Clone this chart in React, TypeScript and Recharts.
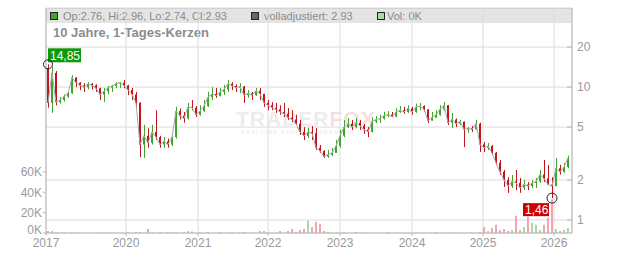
import React from 'react';
import { ComposedChart, Bar, Line, XAxis, YAxis, CartesianGrid, ReferenceDot, Cell } from 'recharts';

// one candle per ~4px of the original
const OPEN = [
  13.9, 7.6, 12.8, 7.7, 8.0, 8.5, 9.0, 11.8, 10.8, 10.3,
  10.0, 10.6, 10.3, 9.8, 8.8, 9.3, 9.9, 10.2, 10.6, 10.8,
  10.3, 9.5, 8.8, 7.6, 3.7, 4.3, 3.8, 4.6, 4.2, 3.7,
  3.9, 3.7, 4.2, 6.6, 6.1, 5.8, 7.1, 7.0, 6.2, 6.6,
  7.2, 8.4, 8.9, 8.6, 9.2, 9.6, 10.6, 10.2, 9.9, 10.1,
  8.7, 9.0, 8.7, 9.4, 8.9, 7.6, 7.3, 7.0, 6.8, 6.5,
  6.3, 5.9, 5.7, 5.3, 4.6, 4.3, 4.6, 4.5, 3.5, 3.3,
  3.0, 3.1, 3.2, 3.6, 4.3, 5.0, 5.3, 5.0, 5.4, 5.1,
  4.8, 4.6, 5.5, 5.7, 5.8, 6.1, 6.2, 6.0, 6.5, 6.7,
  6.5, 6.9, 6.5, 7.1, 7.2, 6.8, 5.6, 5.9, 6.2, 6.8,
  7.3, 5.4, 5.7, 5.3, 5.5, 4.8, 4.9, 4.8, 5.3, 3.7,
  3.5, 3.6, 3.2, 2.7, 2.3, 2.0, 1.8, 1.95, 1.9, 1.75,
  1.85, 1.8, 1.9, 1.95, 2.2, 2.05, 1.85, 1.8, 2.45, 2.3,
  2.5,
];
const HIGH = [
  14.85, 14.2, 13.2, 8.4, 8.8, 9.2, 12.3, 11.9, 10.9, 10.7,
  10.9, 10.7, 10.5, 9.9, 9.85, 10.2, 10.4, 10.9, 10.9, 11.3,
  10.4, 9.85, 9.2, 7.7, 5.2, 4.9, 5.2, 6.7, 4.3, 4.2,
  4.1, 4.4, 7.1, 6.9, 6.5, 7.6, 8.0, 7.2, 7.3, 8.0,
  9.2, 10.0, 9.85, 9.85, 10.4, 11.3, 10.9, 10.5, 10.7, 10.2,
  9.5, 9.2, 9.85, 9.85, 8.9, 8.0, 7.7, 7.6, 7.3, 7.6,
  6.95, 6.7, 6.2, 5.66, 5.0, 4.92, 5.1, 4.92, 3.67, 3.36,
  3.36, 3.48, 4.0, 4.76, 5.66, 5.85, 5.66, 5.85, 5.66, 5.28,
  5.0, 5.95, 6.06, 6.2, 6.5, 6.6, 6.5, 6.95, 7.2, 7.1,
  7.3, 7.1, 7.5, 7.6, 7.3, 6.8, 6.5, 6.7, 7.3, 7.7,
  7.3, 6.4, 5.8, 5.66, 5.5, 5.0, 5.1, 5.66, 5.4, 3.86,
  3.8, 3.67, 3.25, 2.83, 2.38, 2.1, 2.18, 2.38, 2.07, 2.0,
  1.93, 2.0, 2.07, 2.38, 2.83, 2.59, 2.1, 2.93, 2.6, 2.68,
  3.05,
];
const LOW = [
  7.0, 6.4, 7.3, 7.5, 7.8, 8.3, 8.9, 10.0, 9.5, 9.2,
  9.6, 9.6, 9.2, 8.0, 7.7, 8.8, 9.2, 9.8, 9.85, 9.8,
  8.7, 8.0, 6.95, 2.97, 2.93, 3.5, 3.7, 4.0, 3.5, 3.5,
  3.5, 3.6, 4.1, 5.7, 5.4, 5.7, 6.7, 5.95, 6.1, 6.5,
  7.1, 8.0, 8.3, 8.5, 8.7, 9.2, 9.5, 9.2, 9.0, 7.6,
  8.3, 8.0, 8.6, 8.0, 7.1, 6.7, 6.7, 6.4, 6.2, 5.95,
  5.66, 5.46, 5.19, 4.36, 4.0, 4.14, 4.0, 3.36, 3.2, 2.93,
  2.93, 3.03, 3.2, 3.5, 4.2, 4.92, 4.76, 4.9, 4.76, 4.45,
  4.2, 4.55, 5.37, 5.37, 5.7, 5.95, 5.95, 5.95, 6.4, 6.3,
  6.4, 6.2, 6.4, 6.7, 6.5, 5.37, 5.6, 5.9, 6.1, 6.6,
  5.19, 4.92, 5.0, 5.19, 3.54, 4.52, 4.6, 4.76, 3.25, 3.25,
  3.36, 3.08, 2.59, 2.18, 1.77, 1.6, 1.74, 1.68, 1.6, 1.68,
  1.68, 1.74, 1.74, 1.9, 1.93, 1.83, 1.46, 1.8, 2.2, 2.26,
  2.45,
];
const CLOSE = [
  7.6, 12.8, 7.7, 8.0, 8.5, 9.0, 11.8, 10.8, 10.3, 10.0,
  10.6, 10.3, 9.8, 8.8, 9.3, 9.9, 10.2, 10.6, 10.8, 10.3,
  9.5, 8.8, 7.6, 3.7, 4.3, 3.8, 4.6, 4.2, 3.7, 3.9,
  3.7, 4.2, 6.6, 6.1, 5.8, 7.1, 7.0, 6.2, 6.6, 7.2,
  8.4, 8.9, 8.6, 9.2, 9.6, 10.6, 10.2, 9.9, 10.1, 8.7,
  9.0, 8.7, 9.4, 8.9, 7.6, 7.3, 7.0, 6.8, 6.5, 6.3,
  5.9, 5.7, 5.3, 4.6, 4.3, 4.6, 4.5, 3.5, 3.3, 3.0,
  3.1, 3.2, 3.6, 4.3, 5.0, 5.3, 5.0, 5.4, 5.1, 4.8,
  4.6, 5.5, 5.7, 5.8, 6.1, 6.2, 6.0, 6.5, 6.7, 6.5,
  6.9, 6.5, 7.1, 7.2, 6.8, 5.6, 5.9, 6.2, 6.8, 7.3,
  5.4, 5.7, 5.3, 5.5, 4.8, 4.9, 4.8, 5.3, 3.7, 3.5,
  3.6, 3.2, 2.7, 2.3, 2.0, 1.8, 1.95, 1.9, 1.75, 1.85,
  1.8, 1.9, 1.95, 2.2, 2.05, 1.85, 1.8, 2.45, 2.3, 2.5,
  2.93,
];
// volume in thousands
const VOLUME_K = [
  2, 2, 0.5, 0, 0.5, 0, 1, 0, 0, 0,
  0, 0, 0, 0, 1, 0, 0, 0, 0, 0,
  0.5, 0, 1, 1, 0.5, 4, 0.5, 0, 1, 0,
  1, 0.5, 1, 0, 0.5, 2, 1.5, 0, 0.5, 0,
  1, 0, 0, 1, 0, 0, 1, 0, 0.5, 1,
  0, 0, 0, 2, 2, 0.5, 0, 0, 2, 0,
  2, 4, 1, 3, 4, 12, 6, 11, 9, 2,
  1, 0, 0.5, 0, 1, 0, 0, 1, 0, 0.5,
  0, 0, 0, 0, 0, 1, 0, 0, 0, 0,
  0, 0, 0.5, 0, 0, 0, 0, 1, 0, 0,
  0.5, 0, 0.5, 0, 0, 0, 0.5, 0, 1, 6,
  2, 5, 8, 3, 4, 2, 3, 17, 3, 6,
  16, 10, 8, 3, 8, 15, 33, 4, 2, 3,
  5,
];

// last trading day shown in the header legend
const LAST_DAY = ['2.76', '2.96', '2.74', '2.93'];
const LAST_VOL = '0K';

const YEAR_LABELS = ['2017', '2020', '2021', '2022', '2023', '2024', '2025', '2026'];
const YEAR_POS = [0, 20, 38, 55.5, 73.5, 91.5, 109.25, 127];
const PRICE_TICKS = [1, 2, 5, 10, 20];
const VOL_TICKS = [0, 20000, 40000, 60000];

const GREEN = '#3fa52b';
const RED = '#c2141c';
const VOL_GREEN = '#a9dca3';
const VOL_RED = '#f1a5ae';
const AXIS = '#b8b8b8';
const GRID = '#dcdcdc';
const LABEL = '#9a9a9a';
const FONT = '"Liberation Sans", Arial, sans-serif';

const rows = CLOSE.map((c, i) => ({
  t: i + 0.5,
  open: OPEN[i],
  high: HIGH[i],
  low: LOW[i],
  close: c,
  range: [LOW[i], HIGH[i]],
  vol: VOLUME_K[i] * 1000,
}));

const hiIdx = HIGH.indexOf(Math.max(...HIGH));
const loIdx = LOW.indexOf(Math.min(...LOW));

function Candle(props: any) {
  const { x, y, width, height, payload } = props;
  if (height == null || !payload) return null;
  const { open, close, high, low } = payload;
  const lh = Math.log(high);
  const span = lh - Math.log(low) || 1;
  const pos = (v: number) => y + (height * (lh - Math.log(v))) / span;
  const top = pos(Math.max(open, close));
  const bot = pos(Math.min(open, close));
  const color = close >= open ? GREEN : RED;
  const cx = Math.round(x + width / 2) + 0.5;
  return (
    <g>
      <line x1={cx} x2={cx} y1={y} y2={y + height} stroke={color} strokeWidth={1} />
      <rect x={x} y={top} width={width} height={Math.max(1, bot - top)} fill={color} />
    </g>
  );
}

// volume tick; the 0K label sits a little higher so it clears the year below
function VolTick(props: any) {
  const { x, y, payload } = props;
  const lift = payload.value === 0 ? -3 : 0;
  return (
    <text x={x} y={y + lift} dy="0.355em" textAnchor="end" fill={LABEL} fontSize={12} fontFamily={FONT}>
      {`${payload.value / 1000}K`}
    </text>
  );
}

function MaxMarker(props: any) {
  const { cx, cy } = props;
  return (
    <g>
      <rect x={cx + 0} y={cy - 16} width={33} height={14} fill="#0a9a0a" />
      <text x={cx + 2} y={cy - 4.5} fill="#fff" fontSize={12} fontFamily={FONT}>
        {String(HIGH[hiIdx]).replace('.', ',')}
      </text>
      <circle cx={cx} cy={cy} r={4.5} fill="none" stroke="#222" strokeWidth={1} />
    </g>
  );
}

function MinMarker(props: any) {
  const { cx, cy } = props;
  return (
    <g>
      <rect x={cx - 29} y={cy + 5} width={26} height={13} fill="#cc0000" />
      <text x={cx - 27} y={cy + 16} fill="#fff" fontSize={12} fontFamily={FONT}>
        {String(LOW[loIdx]).replace('.', ',')}
      </text>
      <circle cx={cx} cy={cy} r={5} fill="none" stroke="#222" strokeWidth={1} />
    </g>
  );
}

const sq = (fill: string, left: number) => (
  <span
    style={{
      position: 'absolute', left, top: 12, width: 6, height: 6,
      background: fill, border: '1px solid #222',
    }}
  />
);

export default function App() {
  const legendText = { position: 'absolute' as const, top: 9, fontSize: 11, color: '#8a8a8a', lineHeight: '14px' };
  return (
    <div style={{ position: 'absolute', left: 0, top: 0, width: 632, height: 253, fontFamily: FONT, background: '#fff' }}>
      {/* header strip and title sit behind the grid */}
      <div style={{ position: 'absolute', left: 46, top: 8, width: 526, height: 14, background: '#e4e4e4', borderTop: '1px solid #c8c8c8' }} />
      {sq(GREEN, 50)}
      <span style={{ ...legendText, left: 63 }}>
        Op:{LAST_DAY[0]}, Hi:{LAST_DAY[1]}, Lo:{LAST_DAY[2]}, Cl:{LAST_DAY[3]}
      </span>
      {sq('#666', 251)}
      <span style={{ ...legendText, left: 264 }}>volladjustiert: {LAST_DAY[3]}</span>
      {sq(VOL_GREEN, 377)}
      <span style={{ ...legendText, left: 387 }}>Vol: {LAST_VOL}</span>
      <div style={{ position: 'absolute', left: 53, top: 25, fontSize: 13, fontWeight: 'bold', color: '#8c8c8c' }}>
        10 Jahre, 1-Tages-Kerzen
      </div>
      <div style={{ position: 'absolute', left: 236, top: 107, fontSize: 21, fontWeight: 'bold', letterSpacing: 1, color: '#ececec' }}>
        TRADER<span style={{ color: '#f7dede' }}>FOX</span>
      </div>
      <div style={{ position: 'absolute', left: 241, top: 129, fontSize: 5.5, fontWeight: 'bold', letterSpacing: 1.2, color: '#eeeeee' }}>
        REALTIME STOCK SCREENING
      </div>

      <div style={{ position: 'absolute', left: 0, top: 0 }}>
        <ComposedChart width={632} height={253} data={rows} margin={{ top: 8, right: 0, bottom: 0, left: 0 }}>
          <CartesianGrid xAxisId="main" yAxisId="price" stroke={GRID} />
          <XAxis
            xAxisId="main"
            type="number"
            dataKey="t"
            domain={[0, 131.5]}
            allowDataOverflow
            ticks={YEAR_POS}
            interval={0}
            tickFormatter={(v: number) => YEAR_LABELS[YEAR_POS.indexOf(v)] ?? ''}
            height={20}
            stroke={AXIS}
            tickSize={3}
            tickMargin={2}
            tick={{ fill: LABEL, fontSize: 12, fontFamily: FONT }}
          />
          <XAxis xAxisId="vol" type="number" dataKey="t" domain={[0, 131.5]} allowDataOverflow hide />
          <YAxis
            yAxisId="price"
            orientation="right"
            scale="log"
            domain={[0.798, 39.4]}
            allowDataOverflow
            ticks={PRICE_TICKS}
            interval={0}
            width={60}
            stroke={AXIS}
            tickSize={-5}
            tickMargin={10}
            tick={{ fill: LABEL, fontSize: 12, fontFamily: FONT }}
          />
          <YAxis
            yAxisId="vol"
            orientation="left"
            domain={[0, 221000]}
            allowDataOverflow
            ticks={VOL_TICKS}
            interval={0}
            width={46}
            stroke={AXIS}
            tickSize={3}
            tickMargin={1}
            tick={VolTick}
          />
          <Bar xAxisId="vol" yAxisId="vol" dataKey="vol" barSize={2} isAnimationActive={false}>
            {rows.map((r, i) => (
              <Cell key={i} fill={r.close >= r.open ? VOL_GREEN : VOL_RED} />
            ))}
          </Bar>
          <Line
            xAxisId="main"
            yAxisId="price"
            dataKey="close"
            stroke="#a8a8a8"
            strokeWidth={1}
            dot={false}
            isAnimationActive={false}
          />
          <Bar xAxisId="main" yAxisId="price" dataKey="range" barSize={2} shape={Candle} isAnimationActive={false} />
          <ReferenceDot xAxisId="main" yAxisId="price" x={rows[hiIdx].t} y={HIGH[hiIdx]} shape={MaxMarker} ifOverflow="visible" />
          <ReferenceDot xAxisId="main" yAxisId="price" x={rows[loIdx].t} y={LOW[loIdx]} shape={MinMarker} ifOverflow="visible" />
        </ComposedChart>
      </div>
    </div>
  );
}
